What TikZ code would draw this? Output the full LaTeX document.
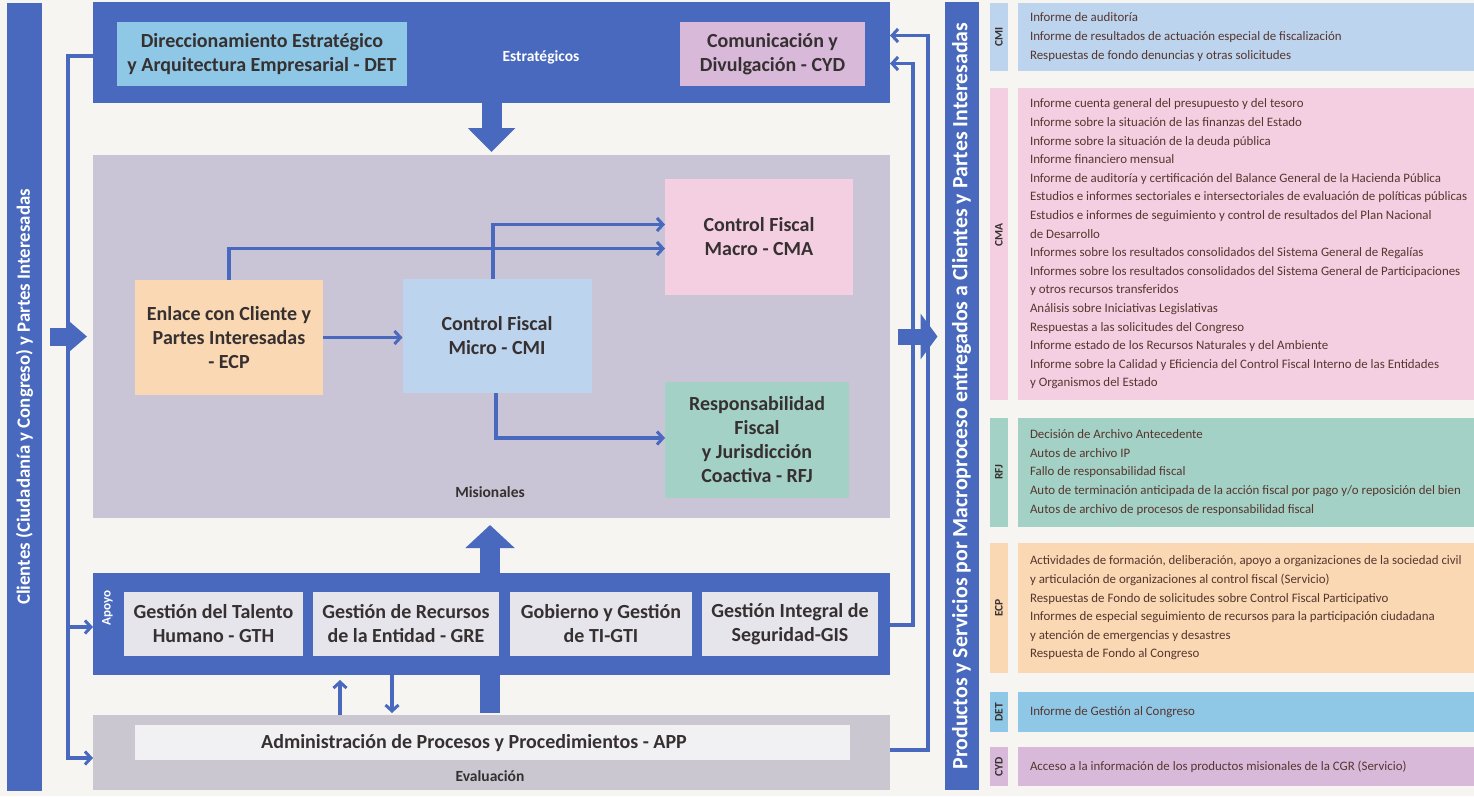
\documentclass[tikz,border=0pt]{standalone}
\usepackage{fontspec}
\setmainfont{Carlito}
\usetikzlibrary{arrows.meta,calc}

\definecolor{paper}{HTML}{F6F5F1}
\definecolor{cgrblue}{HTML}{4869BD}
\definecolor{misgray}{HTML}{C9C5D6}
\definecolor{evalgray}{HTML}{CAC7D1}
\definecolor{boxgray}{HTML}{E6E5EC}
\definecolor{appwhite}{HTML}{F1F0F3}
\definecolor{detblue}{HTML}{8FC7E6}
\definecolor{cydlilac}{HTML}{D8B9DA}
\definecolor{ecppeach}{HTML}{F9D8B3}
\definecolor{cmiblue}{HTML}{BDD4EE}
\definecolor{cmapink}{HTML}{F3CFE1}
\definecolor{rfjteal}{HTML}{A3D1C5}
\definecolor{titletext}{HTML}{363030}
\definecolor{listtext}{HTML}{56362F}

\begin{document}
\begin{tikzpicture}[x=1pt,y=-1pt,
  every node/.style={inner sep=0pt,outer sep=0pt},
  area/.style={fill=#1,draw=none},
  proc/.style={fill=#1,draw=none,align=center,text=titletext,
    font=\fontsize{20}{24}\selectfont\bfseries},
  band/.style={fill=cgrblue,draw=none,rotate=90,text=white},
  grouplabel/.style={font=\fontsize{15.5}{17}\selectfont\bfseries},
  tab/.style={fill=#1,draw=none,rotate=90,text=titletext,
    font=\fontsize{11.5}{13}\selectfont\bfseries},
  items/.style={anchor=west,align=left,text=listtext,
    font=\fontsize{12.9}{18.6}\selectfont},
  link/.style={draw=cgrblue,line width=3.5pt,
    -{Straight Barb[length=6pt,width=13pt,line width=3pt]}},
  bus/.style={draw=cgrblue,line width=3.5pt},
  fat/.style={draw=cgrblue,line width=#1}
]
\useasboundingbox (0,0) rectangle (1474,796);
\fill[paper] (0,0) rectangle (1474,796);

% side bands
\node[band,minimum width=788,minimum height=35,font=\fontsize{18.8}{20}\selectfont\bfseries]
  (clients) at (24.5,397)
  {Clientes (Ciudadanía y Congreso) y Partes Interesadas};
\node[band,minimum width=788,minimum height=34,font=\fontsize{21.8}{24}\selectfont\bfseries]
  (products) at (961.5,396)
  {Productos y Servicios por Macroproceso entregados a Clientes y Partes Interesadas};

% process groups
\node[area=cgrblue,minimum width=797,minimum height=101] (strat) at (491.5,52.5) {};
\node[area=misgray,minimum width=797,minimum height=363] (mis) at (491.5,336.5) {};
\node[area=evalgray,minimum width=797,minimum height=75] (app) at (491.5,752.5) {};

% block arrows between the groups
\draw[fat=20pt,-{Triangle[length=24pt,width=46pt]},shorten >=3pt]
  (strat.south) -- (mis.north);
\draw[fat=20pt,-{Triangle[length=23pt,width=48pt]},shorten >=7pt,shorten <=2pt]
  ($(app.north)+(-1.5,0)$) -- ($(mis.south)+(-1.5,0)$);
\draw[fat=18pt,-{Triangle[length=20pt,width=33pt]},shorten <=8pt,shorten >=6pt]
  (clients.south |- mis.center) -- (mis.west);
\draw[fat=16pt,-{Triangle[length=17pt,width=45pt]},shorten <=8pt,shorten >=7pt]
  (mis.east) -- (products.north |- mis.center);

\node[area=cgrblue,minimum width=797,minimum height=102] (apoyo) at (491.5,624) {};

% strategic processes
\node[proc=detblue,minimum width=290,minimum height=64] (det) at (262,54)
  {Direccionamiento Estratégico\\y Arquitectura Empresarial - DET};
\node[proc=cydlilac,minimum width=185,minimum height=64] (cyd) at (772.5,54)
  {Comunicación y\\Divulgación - CYD};
\node[grouplabel,text=white] (estr) at (541,57) {Estratégicos};

% mission processes
\node[proc=ecppeach,minimum width=188,minimum height=115] (ecp) at (229,337.5)
  {Enlace con Cliente y\\Partes Interesadas\\- ECP};
\node[proc=cmiblue,minimum width=189,minimum height=114] (cmi) at (497,336)
  {Control Fiscal\\Micro - CMI};
\node[proc=cmapink,minimum width=188,minimum height=116] (cma) at (759,236.5)
  {Control Fiscal\\Macro - CMA};
\node[proc=rfjteal,minimum width=184,minimum height=116] (rfj) at (757,440)
  {Responsabilidad\\Fiscal\\y Jurisdicción\\Coactiva - RFJ};
\node[grouplabel,text=titletext] (misl) at (490,492) {Misionales};

% support processes
\node[proc=boxgray,minimum width=179,minimum height=64] (gth) at (213.5,624)
  {Gestión del Talento\\Humano - GTH};
\node[proc=boxgray,minimum width=186,minimum height=64] (gre) at (406,624)
  {Gestión de Recursos\\de la Entidad - GRE};
\node[proc=boxgray,minimum width=182,minimum height=64] (gti) at (601,624)
  {Gobierno y Gestión\\de TI-GTI};
\node[proc=boxgray,minimum width=176,minimum height=64] (gis) at (790,624)
  {Gestión Integral de\\Seguridad-GIS};
\node[rotate=90,text=white,font=\fontsize{13}{15}\selectfont\bfseries] (apoyol) at (107.5,608) {Apoyo};

% evaluation process
\node[area=appwhite,minimum width=715,minimum height=35] (appbar) at (492.5,742.5) {};
\node[text=titletext,font=\fontsize{20}{24}\selectfont\bfseries] (apptext) at (474,743)
  {Administración de Procesos y Procedimientos - APP};
\node[grouplabel,text=titletext] (eval) at (490,776) {Evaluación};

% flows among mission processes
\draw[link] (ecp.east) -- (cmi.west |- ecp.east);
\draw[link] (ecp.north) |- ($(cma.west)+(0,12)$);
\draw[link] ($(cmi.north)+(-4,0)$) |- ($(cma.west)+(0,-12)$);
\draw[link] ($(cmi.south)+(-1,0)$) |- ($(rfj.west)+(0,-2)$);

% strategic direction to support and evaluation
\draw[bus] ($(strat.west)+(0,3.5)$) -| ($(apoyo.west)+(-25,3)$);
\draw[link] ($(apoyo.west)+(-25,1)$) |- ($(apoyo.west)+(0,3)$);
\draw[link] ($(apoyo.west)+(-25,3)$) |- ($(app.west)+(0,5.5)$);

% support and evaluation feed communication
\draw[link] ($(apoyo.east)+(0,1)$) -| ($(strat.east)+(23,11)$) -- ($(strat.east)+(0,11)$);
\draw[link] ($(app.east)+(0,-2.5)$) -| ($(strat.east)+(38,-17)$) -- ($(strat.east)+(0,-17)$);

% exchange between support and evaluation
\draw[link,shorten >=5pt] ($(app.north)+(-151.5,0)$) -- ($(apoyo.south)+(-151.5,0)$);
\draw[link,shorten >=2pt] ($(apoyo.south)+(-99.5,0)$) -- ($(app.north)+(-99.5,0)$);

% products and services by macroprocess
\node[area=cmiblue,anchor=west,minimum width=456,minimum height=68] (pcmi) at (1018,37) {};
\node[area=cmapink,anchor=west,minimum width=456,minimum height=312] (pcma) at (1018,244) {};
\node[area=rfjteal,anchor=west,minimum width=456,minimum height=109] (prfj) at (1018,472.5) {};
\node[area=ecppeach,anchor=west,minimum width=456,minimum height=130] (pecp) at (1018,608) {};
\node[area=detblue,anchor=west,minimum width=456,minimum height=40] (pdet) at (1018,712) {};
\node[area=cydlilac,anchor=west,minimum width=456,minimum height=39] (pcyd) at (1018,766.5) {};

\node[tab=cmiblue,minimum width=68,minimum height=18] (tcmi) at (999,37) {CMI};
\node[tab=cmapink,minimum width=312,minimum height=18] (tcma) at (999,244) {\hspace*{18pt}CMA};
\node[tab=rfjteal,minimum width=109,minimum height=18] (trfj) at (999,472.5) {RFJ};
\node[tab=ecppeach,minimum width=130,minimum height=18] (tecp) at (999,608) {ECP};
\node[tab=detblue,minimum width=40,minimum height=18] (tdet) at (999,712) {DET};
\node[tab=cydlilac,minimum width=39,minimum height=18] (tcyd) at (999,766.5) {CYD};

\node[items] (lcmi) at ($(pcmi.west)+(12,0)$) {%
Informe de auditoría\\
Informe de resultados de actuación especial de fiscalización\\
Respuestas de fondo denuncias y otras solicitudes};
\node[items] (lcma) at ($(pcma.west)+(12,0)$) {%
Informe cuenta general del presupuesto y del tesoro\\
Informe sobre la situación de las finanzas del Estado\\
Informe sobre la situación de la deuda pública\\
Informe financiero mensual\\
Informe de auditoría y certificación del Balance General de la Hacienda Pública\\
Estudios e informes sectoriales e intersectoriales de evaluación de políticas públicas\\
Estudios e informes de seguimiento y control de resultados del Plan Nacional\\
de Desarrollo\\
Informes sobre los resultados consolidados del Sistema General de Regalías\\
Informes sobre los resultados consolidados del Sistema General de Participaciones\\
y otros recursos transferidos\\
Análisis sobre Iniciativas Legislativas\\
Respuestas a las solicitudes del Congreso\\
Informe estado de los Recursos Naturales y del Ambiente\\
Informe sobre la Calidad y Eficiencia del Control Fiscal Interno de las Entidades\\
y Organismos del Estado};
\node[items] (lrfj) at ($(prfj.west)+(12,0)$) {%
Decisión de Archivo Antecedente\\
Autos de archivo IP\\
Fallo de responsabilidad fiscal\\
Auto de terminación anticipada de la acción fiscal por pago y/o reposición del bien\\
Autos de archivo de procesos de responsabilidad fiscal};
\node[items] (lecp) at ($(pecp.west)+(12,0)$) {%
Actividades de formación, deliberación, apoyo a organizaciones de la sociedad civil\\
y articulación de organizaciones al control fiscal (Servicio)\\
Respuestas de Fondo de solicitudes sobre Control Fiscal Participativo\\
Informes de especial seguimiento de recursos para la participación ciudadana\\
y atención de emergencias y desastres\\
Respuesta de Fondo al Congreso};
\node[items] (ldet) at ($(pdet.west)+(12,0)$) {Informe de Gestión al Congreso};
\node[items] (lcyd) at ($(pcyd.west)+(12,0)$) {Acceso a la información de los productos misionales de la CGR (Servicio)};
\end{tikzpicture}
\end{document}
